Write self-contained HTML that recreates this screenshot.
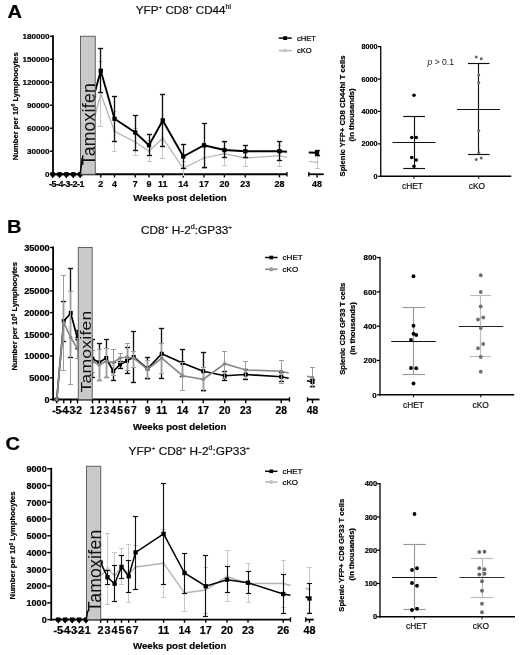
<!DOCTYPE html>
<html><head><meta charset="utf-8"><title>Figure</title>
<style>
html,body{margin:0;padding:0;background:#fff;}
svg{display:block;font-family:"Liberation Sans", sans-serif;filter:blur(0.45px);}
text[font-weight=bold]{stroke:#000;stroke-width:0.2px;}
</style></head>
<body>
<svg width="520" height="655" viewBox="0 0 520 655">
<rect width="520" height="655" fill="#fff"/>
<text transform="translate(7.4,17.7) scale(1.13,1)" font-size="17.8" font-weight="bold" stroke="#000" stroke-width="0.25">A</text>
<text transform="translate(183.4,14.3) scale(1.10,1)" font-size="10.6" text-anchor="middle" fill="#111" stroke="#111" stroke-width="0.2">YFP<tspan dy="-5.6" font-size="5.9">+</tspan><tspan dy="5.6"> CD8</tspan><tspan dy="-5.6" font-size="5.9">+</tspan><tspan dy="5.6"> CD44</tspan><tspan dy="-5.0" font-size="6.4">hi</tspan></text>
<line x1="53.00" y1="35.35" x2="53.00" y2="175.15" stroke="#000" stroke-width="1.8" />
<line x1="52.10" y1="174.25" x2="287.00" y2="174.25" stroke="#000" stroke-width="1.8" />
<line x1="287.00" y1="171.95" x2="287.00" y2="176.55" stroke="#000" stroke-width="1.3" />
<line x1="308.75" y1="174.25" x2="323.75" y2="174.25" stroke="#000" stroke-width="1.8" />
<line x1="308.75" y1="171.95" x2="308.75" y2="176.55" stroke="#000" stroke-width="1.3" />
<line x1="50.00" y1="174.25" x2="53.00" y2="174.25" stroke="#000" stroke-width="1.4" />
<text x="49.60" y="177.17" font-size="8.1" font-weight="bold" text-anchor="end" fill="#000" >0</text>
<line x1="50.00" y1="151.25" x2="53.00" y2="151.25" stroke="#000" stroke-width="1.4" />
<text x="49.60" y="154.17" font-size="8.1" font-weight="bold" text-anchor="end" fill="#000" >30000</text>
<line x1="50.00" y1="128.25" x2="53.00" y2="128.25" stroke="#000" stroke-width="1.4" />
<text x="49.60" y="131.17" font-size="8.1" font-weight="bold" text-anchor="end" fill="#000" >60000</text>
<line x1="50.00" y1="105.25" x2="53.00" y2="105.25" stroke="#000" stroke-width="1.4" />
<text x="49.60" y="108.17" font-size="8.1" font-weight="bold" text-anchor="end" fill="#000" >90000</text>
<line x1="50.00" y1="82.25" x2="53.00" y2="82.25" stroke="#000" stroke-width="1.4" />
<text x="49.60" y="85.17" font-size="8.1" font-weight="bold" text-anchor="end" fill="#000" >120000</text>
<line x1="50.00" y1="59.25" x2="53.00" y2="59.25" stroke="#000" stroke-width="1.4" />
<text x="49.60" y="62.17" font-size="8.1" font-weight="bold" text-anchor="end" fill="#000" >150000</text>
<line x1="50.00" y1="36.25" x2="53.00" y2="36.25" stroke="#000" stroke-width="1.4" />
<text x="49.60" y="39.17" font-size="8.1" font-weight="bold" text-anchor="end" fill="#000" >180000</text>
<line x1="52.70" y1="174.25" x2="52.70" y2="177.45" stroke="#000" stroke-width="1.4" />
<line x1="59.50" y1="174.25" x2="59.50" y2="177.45" stroke="#000" stroke-width="1.4" />
<line x1="66.40" y1="174.25" x2="66.40" y2="177.45" stroke="#000" stroke-width="1.4" />
<line x1="73.30" y1="174.25" x2="73.30" y2="177.45" stroke="#000" stroke-width="1.4" />
<line x1="80.20" y1="174.25" x2="80.20" y2="177.45" stroke="#000" stroke-width="1.4" />
<line x1="100.75" y1="174.25" x2="100.75" y2="177.45" stroke="#000" stroke-width="1.4" />
<text transform="translate(100.75,186.80) scale(1.0,1)" font-size="8.9" font-weight="bold" text-anchor="middle" fill="#000" >2</text>
<line x1="114.50" y1="174.25" x2="114.50" y2="177.45" stroke="#000" stroke-width="1.4" />
<text transform="translate(114.50,186.80) scale(1.0,1)" font-size="8.9" font-weight="bold" text-anchor="middle" fill="#000" >4</text>
<line x1="135.25" y1="174.25" x2="135.25" y2="177.45" stroke="#000" stroke-width="1.4" />
<text transform="translate(135.25,186.80) scale(1.0,1)" font-size="8.9" font-weight="bold" text-anchor="middle" fill="#000" >7</text>
<line x1="149.00" y1="174.25" x2="149.00" y2="177.45" stroke="#000" stroke-width="1.4" />
<text transform="translate(149.00,186.80) scale(1.0,1)" font-size="8.9" font-weight="bold" text-anchor="middle" fill="#000" >9</text>
<line x1="162.75" y1="174.25" x2="162.75" y2="177.45" stroke="#000" stroke-width="1.4" />
<text transform="translate(162.75,186.80) scale(1.0,1)" font-size="8.9" font-weight="bold" text-anchor="middle" fill="#000" >11</text>
<line x1="183.25" y1="174.25" x2="183.25" y2="177.45" stroke="#000" stroke-width="1.4" />
<text transform="translate(183.25,186.80) scale(1.0,1)" font-size="8.9" font-weight="bold" text-anchor="middle" fill="#000" >14</text>
<line x1="204.00" y1="174.25" x2="204.00" y2="177.45" stroke="#000" stroke-width="1.4" />
<text transform="translate(204.00,186.80) scale(1.0,1)" font-size="8.9" font-weight="bold" text-anchor="middle" fill="#000" >17</text>
<line x1="224.40" y1="174.25" x2="224.40" y2="177.45" stroke="#000" stroke-width="1.4" />
<text transform="translate(224.40,186.80) scale(1.0,1)" font-size="8.9" font-weight="bold" text-anchor="middle" fill="#000" >20</text>
<line x1="245.25" y1="174.25" x2="245.25" y2="177.45" stroke="#000" stroke-width="1.4" />
<text transform="translate(245.25,186.80) scale(1.0,1)" font-size="8.9" font-weight="bold" text-anchor="middle" fill="#000" >23</text>
<line x1="279.50" y1="174.25" x2="279.50" y2="177.45" stroke="#000" stroke-width="1.4" />
<text transform="translate(279.50,186.80) scale(1.0,1)" font-size="8.9" font-weight="bold" text-anchor="middle" fill="#000" >28</text>
<line x1="317.00" y1="174.25" x2="317.00" y2="177.45" stroke="#000" stroke-width="1.4" />
<text transform="translate(317.00,186.80) scale(1.0,1)" font-size="8.9" font-weight="bold" text-anchor="middle" fill="#000" >48</text>
<text transform="translate(66.40,186.80) scale(1.0,1)" font-size="8.9" font-weight="bold" text-anchor="middle" fill="#000" letter-spacing="-0.45">-5-4-3-2-1</text>
<line x1="100.50" y1="61.50" x2="100.50" y2="126.50" stroke="#c6c6c6" stroke-width="1.0" />
<line x1="98.00" y1="61.50" x2="103.00" y2="61.50" stroke="#c6c6c6" stroke-width="1.0" />
<line x1="98.00" y1="126.50" x2="103.00" y2="126.50" stroke="#c6c6c6" stroke-width="1.0" />
<line x1="114.50" y1="111.50" x2="114.50" y2="151.50" stroke="#c6c6c6" stroke-width="1.0" />
<line x1="112.00" y1="111.50" x2="117.00" y2="111.50" stroke="#c6c6c6" stroke-width="1.0" />
<line x1="112.00" y1="151.50" x2="117.00" y2="151.50" stroke="#c6c6c6" stroke-width="1.0" />
<line x1="135.50" y1="128.50" x2="135.50" y2="155.50" stroke="#c6c6c6" stroke-width="1.0" />
<line x1="133.00" y1="128.50" x2="138.00" y2="128.50" stroke="#c6c6c6" stroke-width="1.0" />
<line x1="133.00" y1="155.50" x2="138.00" y2="155.50" stroke="#c6c6c6" stroke-width="1.0" />
<line x1="149.50" y1="140.50" x2="149.50" y2="161.50" stroke="#c6c6c6" stroke-width="1.0" />
<line x1="147.00" y1="140.50" x2="152.00" y2="140.50" stroke="#c6c6c6" stroke-width="1.0" />
<line x1="147.00" y1="161.50" x2="152.00" y2="161.50" stroke="#c6c6c6" stroke-width="1.0" />
<line x1="162.50" y1="118.50" x2="162.50" y2="158.50" stroke="#c6c6c6" stroke-width="1.0" />
<line x1="160.00" y1="118.50" x2="165.00" y2="118.50" stroke="#c6c6c6" stroke-width="1.0" />
<line x1="160.00" y1="158.50" x2="165.00" y2="158.50" stroke="#c6c6c6" stroke-width="1.0" />
<line x1="183.50" y1="161.50" x2="183.50" y2="175.50" stroke="#c6c6c6" stroke-width="1.0" />
<line x1="181.00" y1="161.50" x2="186.00" y2="161.50" stroke="#c6c6c6" stroke-width="1.0" />
<line x1="181.00" y1="175.50" x2="186.00" y2="175.50" stroke="#c6c6c6" stroke-width="1.0" />
<line x1="204.50" y1="147.50" x2="204.50" y2="168.50" stroke="#c6c6c6" stroke-width="1.0" />
<line x1="202.00" y1="147.50" x2="207.00" y2="147.50" stroke="#c6c6c6" stroke-width="1.0" />
<line x1="202.00" y1="168.50" x2="207.00" y2="168.50" stroke="#c6c6c6" stroke-width="1.0" />
<line x1="224.50" y1="142.50" x2="224.50" y2="165.50" stroke="#c6c6c6" stroke-width="1.0" />
<line x1="222.00" y1="142.50" x2="227.00" y2="142.50" stroke="#c6c6c6" stroke-width="1.0" />
<line x1="222.00" y1="165.50" x2="227.00" y2="165.50" stroke="#c6c6c6" stroke-width="1.0" />
<line x1="245.50" y1="150.50" x2="245.50" y2="166.50" stroke="#c6c6c6" stroke-width="1.0" />
<line x1="243.00" y1="150.50" x2="248.00" y2="150.50" stroke="#c6c6c6" stroke-width="1.0" />
<line x1="243.00" y1="166.50" x2="248.00" y2="166.50" stroke="#c6c6c6" stroke-width="1.0" />
<line x1="279.50" y1="145.50" x2="279.50" y2="166.50" stroke="#c6c6c6" stroke-width="1.0" />
<line x1="277.00" y1="145.50" x2="282.00" y2="145.50" stroke="#c6c6c6" stroke-width="1.0" />
<line x1="277.00" y1="166.50" x2="282.00" y2="166.50" stroke="#c6c6c6" stroke-width="1.0" />
<line x1="317.50" y1="156.50" x2="317.50" y2="168.50" stroke="#c6c6c6" stroke-width="1.0" />
<line x1="315.00" y1="156.50" x2="320.00" y2="156.50" stroke="#c6c6c6" stroke-width="1.0" />
<line x1="315.00" y1="168.50" x2="320.00" y2="168.50" stroke="#c6c6c6" stroke-width="1.0" />
<polyline points="52.70,174.25 59.50,174.25 66.40,174.25 73.30,174.25 80.20,174.25 94.00,120.00 100.75,93.75 114.50,131.25 135.25,142.00 149.00,151.25 162.75,138.25 183.25,168.25 204.00,158.00 224.40,153.75 245.25,158.00 279.50,155.75 287.00,157.50" fill="none" stroke="#b2b2b2" stroke-width="1.25" stroke-linejoin="miter"/>
<polyline points="308.75,161.25 317.00,162.50" fill="none" stroke="#b2b2b2" stroke-width="1.25" stroke-linejoin="miter"/>
<polygon points="51.10,172.97 54.30,172.97 52.70,175.85" fill="#c4c4c4"/>
<polygon points="57.90,172.97 61.10,172.97 59.50,175.85" fill="#c4c4c4"/>
<polygon points="64.80,172.97 68.00,172.97 66.40,175.85" fill="#c4c4c4"/>
<polygon points="71.70,172.97 74.90,172.97 73.30,175.85" fill="#c4c4c4"/>
<polygon points="78.60,172.97 81.80,172.97 80.20,175.85" fill="#c4c4c4"/>
<polygon points="92.40,118.72 95.60,118.72 94.00,121.60" fill="#c4c4c4"/>
<polygon points="99.15,92.47 102.35,92.47 100.75,95.35" fill="#c4c4c4"/>
<polygon points="112.90,129.97 116.10,129.97 114.50,132.85" fill="#c4c4c4"/>
<polygon points="133.65,140.72 136.85,140.72 135.25,143.60" fill="#c4c4c4"/>
<polygon points="147.40,149.97 150.60,149.97 149.00,152.85" fill="#c4c4c4"/>
<polygon points="161.15,136.97 164.35,136.97 162.75,139.85" fill="#c4c4c4"/>
<polygon points="181.65,166.97 184.85,166.97 183.25,169.85" fill="#c4c4c4"/>
<polygon points="202.40,156.72 205.60,156.72 204.00,159.60" fill="#c4c4c4"/>
<polygon points="222.80,152.47 226.00,152.47 224.40,155.35" fill="#c4c4c4"/>
<polygon points="243.65,156.72 246.85,156.72 245.25,159.60" fill="#c4c4c4"/>
<polygon points="277.90,154.47 281.10,154.47 279.50,157.35" fill="#c4c4c4"/>
<polygon points="315.40,161.22 318.60,161.22 317.00,164.10" fill="#c4c4c4"/>
<line x1="100.50" y1="48.50" x2="100.50" y2="92.50" stroke="#111" stroke-width="1.35" />
<line x1="97.90" y1="48.50" x2="103.10" y2="48.50" stroke="#111" stroke-width="1.35" />
<line x1="97.90" y1="92.50" x2="103.10" y2="92.50" stroke="#111" stroke-width="1.35" />
<line x1="114.50" y1="96.50" x2="114.50" y2="141.50" stroke="#111" stroke-width="1.35" />
<line x1="111.90" y1="96.50" x2="117.10" y2="96.50" stroke="#111" stroke-width="1.35" />
<line x1="111.90" y1="141.50" x2="117.10" y2="141.50" stroke="#111" stroke-width="1.35" />
<line x1="135.50" y1="115.50" x2="135.50" y2="150.50" stroke="#111" stroke-width="1.35" />
<line x1="132.90" y1="115.50" x2="138.10" y2="115.50" stroke="#111" stroke-width="1.35" />
<line x1="132.90" y1="150.50" x2="138.10" y2="150.50" stroke="#111" stroke-width="1.35" />
<line x1="149.50" y1="134.50" x2="149.50" y2="155.50" stroke="#111" stroke-width="1.35" />
<line x1="146.90" y1="134.50" x2="152.10" y2="134.50" stroke="#111" stroke-width="1.35" />
<line x1="146.90" y1="155.50" x2="152.10" y2="155.50" stroke="#111" stroke-width="1.35" />
<line x1="162.50" y1="94.50" x2="162.50" y2="146.50" stroke="#111" stroke-width="1.35" />
<line x1="159.90" y1="94.50" x2="165.10" y2="94.50" stroke="#111" stroke-width="1.35" />
<line x1="159.90" y1="146.50" x2="165.10" y2="146.50" stroke="#111" stroke-width="1.35" />
<line x1="183.50" y1="144.50" x2="183.50" y2="168.50" stroke="#111" stroke-width="1.35" />
<line x1="180.90" y1="144.50" x2="186.10" y2="144.50" stroke="#111" stroke-width="1.35" />
<line x1="180.90" y1="168.50" x2="186.10" y2="168.50" stroke="#111" stroke-width="1.35" />
<line x1="204.50" y1="123.50" x2="204.50" y2="167.50" stroke="#111" stroke-width="1.35" />
<line x1="201.90" y1="123.50" x2="207.10" y2="123.50" stroke="#111" stroke-width="1.35" />
<line x1="201.90" y1="167.50" x2="207.10" y2="167.50" stroke="#111" stroke-width="1.35" />
<line x1="224.50" y1="141.50" x2="224.50" y2="157.50" stroke="#111" stroke-width="1.35" />
<line x1="221.90" y1="141.50" x2="227.10" y2="141.50" stroke="#111" stroke-width="1.35" />
<line x1="221.90" y1="157.50" x2="227.10" y2="157.50" stroke="#111" stroke-width="1.35" />
<line x1="245.50" y1="145.50" x2="245.50" y2="157.50" stroke="#111" stroke-width="1.35" />
<line x1="242.90" y1="145.50" x2="248.10" y2="145.50" stroke="#111" stroke-width="1.35" />
<line x1="242.90" y1="157.50" x2="248.10" y2="157.50" stroke="#111" stroke-width="1.35" />
<line x1="279.50" y1="141.50" x2="279.50" y2="160.50" stroke="#111" stroke-width="1.35" />
<line x1="276.90" y1="141.50" x2="282.10" y2="141.50" stroke="#111" stroke-width="1.35" />
<line x1="276.90" y1="160.50" x2="282.10" y2="160.50" stroke="#111" stroke-width="1.35" />
<line x1="317.50" y1="150.50" x2="317.50" y2="155.50" stroke="#111" stroke-width="1.35" />
<line x1="314.90" y1="150.50" x2="320.10" y2="150.50" stroke="#111" stroke-width="1.35" />
<line x1="314.90" y1="155.50" x2="320.10" y2="155.50" stroke="#111" stroke-width="1.35" />
<polyline points="52.70,174.25 59.50,174.25 66.40,174.25 73.30,174.25 80.20,174.25 94.00,95.50 100.75,70.75 114.50,118.75 135.25,132.50 149.00,145.25 162.75,120.50 183.25,156.50 204.00,145.25 224.40,150.00 245.25,151.25 279.50,151.25 287.00,151.75" fill="none" stroke="#000" stroke-width="1.9" stroke-linejoin="miter"/>
<polyline points="308.75,152.50 317.00,152.75" fill="none" stroke="#000" stroke-width="1.9" stroke-linejoin="miter"/>
<rect x="50.55" y="172.10" width="4.3" height="4.3" fill="#000"/>
<rect x="57.35" y="172.10" width="4.3" height="4.3" fill="#000"/>
<rect x="64.25" y="172.10" width="4.3" height="4.3" fill="#000"/>
<rect x="71.15" y="172.10" width="4.3" height="4.3" fill="#000"/>
<rect x="78.05" y="172.10" width="4.3" height="4.3" fill="#000"/>
<rect x="91.85" y="93.35" width="4.3" height="4.3" fill="#000"/>
<rect x="98.60" y="68.60" width="4.3" height="4.3" fill="#000"/>
<rect x="112.35" y="116.60" width="4.3" height="4.3" fill="#000"/>
<rect x="133.10" y="130.35" width="4.3" height="4.3" fill="#000"/>
<rect x="146.85" y="143.10" width="4.3" height="4.3" fill="#000"/>
<rect x="160.60" y="118.35" width="4.3" height="4.3" fill="#000"/>
<rect x="181.10" y="154.35" width="4.3" height="4.3" fill="#000"/>
<rect x="201.85" y="143.10" width="4.3" height="4.3" fill="#000"/>
<rect x="222.25" y="147.85" width="4.3" height="4.3" fill="#000"/>
<rect x="243.10" y="149.10" width="4.3" height="4.3" fill="#000"/>
<rect x="277.35" y="149.10" width="4.3" height="4.3" fill="#000"/>
<rect x="314.85" y="150.60" width="4.3" height="4.3" fill="#000"/>
<polygon points="49.90,173.05 55.50,173.05 52.70,178.45" fill="#000"/>
<polygon points="56.70,173.05 62.30,173.05 59.50,178.45" fill="#000"/>
<polygon points="63.60,173.05 69.20,173.05 66.40,178.45" fill="#000"/>
<polygon points="70.50,173.05 76.10,173.05 73.30,178.45" fill="#000"/>
<polygon points="77.40,173.05 83.00,173.05 80.20,178.45" fill="#000"/>
<rect x="80.5" y="36.25" width="14.75" height="138.00" fill="#c9c9c9" stroke="#555" stroke-width="0.9"/>
<text transform="translate(95.00,165.40) rotate(-90) scale(1,1)" font-size="17.6" letter-spacing="0.24" fill="#111">Tamoxifen</text>
<line x1="80.30" y1="174.25" x2="82.20" y2="158.00" stroke="#000" stroke-width="1.5" />
<text transform="translate(17.60,106.35) rotate(-90)" font-size="7.7" font-weight="bold" text-anchor="middle" fill="#000" >Number per 10<tspan dy="-2.6" font-size="5">6</tspan><tspan dy="2.6"> Lymphocytes</tspan></text>
<text x="180.00" y="200.60" font-size="9.7" font-weight="bold" text-anchor="middle" fill="#000" >Weeks post deletion</text>
<line x1="278.70" y1="38.10" x2="291.70" y2="38.10" stroke="#000" stroke-width="1.5" />
<rect x="283.30" y="36.20" width="3.8" height="3.8" fill="#000"/>
<text x="297.00" y="40.80" font-size="7.6" font-weight="normal" text-anchor="start" fill="#000" stroke="#000" stroke-width="0.22">cHET</text>
<line x1="278.70" y1="50.60" x2="291.70" y2="50.60" stroke="#b8b8b8" stroke-width="1.6" />
<circle cx="285.20" cy="50.60" r="1.9" fill="#c4c4c4"/>
<text x="297.00" y="53.30" font-size="7.6" font-weight="normal" text-anchor="start" fill="#000" stroke="#000" stroke-width="0.22">cKO</text>
<line x1="414.50" y1="116.50" x2="414.50" y2="168.50" stroke="#111" stroke-width="1.15" />
<line x1="403.25" y1="116.50" x2="425.00" y2="116.50" stroke="#111" stroke-width="1.15" />
<line x1="403.25" y1="168.50" x2="425.00" y2="168.50" stroke="#111" stroke-width="1.15" />
<line x1="392.50" y1="142.50" x2="435.50" y2="142.50" stroke="#111" stroke-width="1.15" />
<circle cx="414.00" cy="95.25" r="1.8" fill="#000"/>
<circle cx="411.75" cy="137.50" r="1.8" fill="#000"/>
<circle cx="416.25" cy="137.50" r="1.8" fill="#000"/>
<circle cx="411.75" cy="157.50" r="1.8" fill="#000"/>
<circle cx="416.25" cy="160.00" r="1.8" fill="#000"/>
<circle cx="414.00" cy="166.25" r="1.8" fill="#000"/>
<line x1="414.00" y1="176.25" x2="414.00" y2="178.85" stroke="#000" stroke-width="1.0" />
<text x="412.50" y="189.20" font-size="8.4" font-weight="normal" text-anchor="middle" fill="#111" stroke="#111" stroke-width="0.2">cHET</text>
<line x1="478.50" y1="63.50" x2="478.50" y2="154.50" stroke="#111" stroke-width="1.15" />
<line x1="468.00" y1="63.50" x2="489.50" y2="63.50" stroke="#111" stroke-width="1.15" />
<line x1="468.00" y1="154.50" x2="489.50" y2="154.50" stroke="#111" stroke-width="1.15" />
<line x1="457.00" y1="109.50" x2="500.00" y2="109.50" stroke="#111" stroke-width="1.15" />
<circle cx="476.25" cy="57.00" r="1.5" fill="#6a6a6a"/>
<circle cx="481.25" cy="58.75" r="1.5" fill="#6a6a6a"/>
<circle cx="478.75" cy="75.00" r="1.5" fill="#6a6a6a"/>
<circle cx="478.75" cy="82.50" r="1.5" fill="#6a6a6a"/>
<circle cx="478.75" cy="130.50" r="1.5" fill="#6a6a6a"/>
<circle cx="478.75" cy="152.50" r="1.5" fill="#6a6a6a"/>
<circle cx="476.25" cy="159.50" r="1.5" fill="#6a6a6a"/>
<circle cx="481.25" cy="158.00" r="1.5" fill="#6a6a6a"/>
<line x1="478.75" y1="176.25" x2="478.75" y2="178.85" stroke="#000" stroke-width="1.0" />
<text x="476.90" y="189.20" font-size="8.4" font-weight="normal" text-anchor="middle" fill="#111" stroke="#111" stroke-width="0.2">cKO</text>
<line x1="380.75" y1="46.05" x2="380.75" y2="176.95" stroke="#000" stroke-width="1.3" />
<line x1="380.05" y1="176.25" x2="511.25" y2="176.25" stroke="#000" stroke-width="1.3" />
<line x1="377.75" y1="176.25" x2="380.75" y2="176.25" stroke="#000" stroke-width="1.2" />
<text x="377.45" y="178.84" font-size="7.2" font-weight="bold" text-anchor="end" fill="#000" >0</text>
<line x1="377.75" y1="143.85" x2="380.75" y2="143.85" stroke="#000" stroke-width="1.2" />
<text x="377.45" y="146.44" font-size="7.2" font-weight="bold" text-anchor="end" fill="#000" >2000</text>
<line x1="377.75" y1="111.45" x2="380.75" y2="111.45" stroke="#000" stroke-width="1.2" />
<text x="377.45" y="114.04" font-size="7.2" font-weight="bold" text-anchor="end" fill="#000" >4000</text>
<line x1="377.75" y1="79.05" x2="380.75" y2="79.05" stroke="#000" stroke-width="1.2" />
<text x="377.45" y="81.64" font-size="7.2" font-weight="bold" text-anchor="end" fill="#000" >6000</text>
<line x1="377.75" y1="46.65" x2="380.75" y2="46.65" stroke="#000" stroke-width="1.2" />
<text x="377.45" y="49.24" font-size="7.2" font-weight="bold" text-anchor="end" fill="#000" >8000</text>
<text transform="translate(345.10,116.00) rotate(-90)" font-size="7.7" font-weight="bold" text-anchor="middle" fill="#000" >Splenic YFP+ CD8 CD44hi T cells</text>
<text transform="translate(354.40,115.00) rotate(-90)" font-size="7.7" font-weight="bold" text-anchor="middle" fill="#000" >(in thousands)</text>
<text x="427.5" y="65.2" font-size="8.6" fill="#222"><tspan font-style="italic">p</tspan> &gt; 0.1</text>
<text transform="translate(7.0,233.4) scale(1.13,1)" font-size="17.8" font-weight="bold" stroke="#000" stroke-width="0.25">B</text>
<text transform="translate(186.6,234.4) scale(1.115,1)" font-size="10.6" text-anchor="middle" fill="#111" stroke="#111" stroke-width="0.2">CD8<tspan dy="-5.6" font-size="5.9">+</tspan><tspan dy="5.6"> H-2</tspan><tspan dy="-5.0" font-size="6.4">d</tspan><tspan dy="5.0">:GP33</tspan><tspan dy="-5.6" font-size="5.9">+</tspan></text>
<line x1="53.10" y1="246.60" x2="53.10" y2="400.40" stroke="#000" stroke-width="1.8" />
<line x1="52.20" y1="399.50" x2="289.50" y2="399.50" stroke="#000" stroke-width="1.8" />
<line x1="289.50" y1="397.20" x2="289.50" y2="401.80" stroke="#000" stroke-width="1.3" />
<line x1="307.50" y1="399.50" x2="319.50" y2="399.50" stroke="#000" stroke-width="1.8" />
<line x1="307.50" y1="397.20" x2="307.50" y2="401.80" stroke="#000" stroke-width="1.3" />
<line x1="50.10" y1="399.50" x2="53.10" y2="399.50" stroke="#000" stroke-width="1.4" />
<text x="49.70" y="402.81" font-size="9.2" font-weight="bold" text-anchor="end" fill="#000" >0</text>
<line x1="50.10" y1="377.78" x2="53.10" y2="377.78" stroke="#000" stroke-width="1.4" />
<text x="49.70" y="381.09" font-size="9.2" font-weight="bold" text-anchor="end" fill="#000" >5000</text>
<line x1="50.10" y1="356.06" x2="53.10" y2="356.06" stroke="#000" stroke-width="1.4" />
<text x="49.70" y="359.37" font-size="9.2" font-weight="bold" text-anchor="end" fill="#000" >10000</text>
<line x1="50.10" y1="334.34" x2="53.10" y2="334.34" stroke="#000" stroke-width="1.4" />
<text x="49.70" y="337.65" font-size="9.2" font-weight="bold" text-anchor="end" fill="#000" >15000</text>
<line x1="50.10" y1="312.62" x2="53.10" y2="312.62" stroke="#000" stroke-width="1.4" />
<text x="49.70" y="315.93" font-size="9.2" font-weight="bold" text-anchor="end" fill="#000" >20000</text>
<line x1="50.10" y1="290.90" x2="53.10" y2="290.90" stroke="#000" stroke-width="1.4" />
<text x="49.70" y="294.21" font-size="9.2" font-weight="bold" text-anchor="end" fill="#000" >25000</text>
<line x1="50.10" y1="269.18" x2="53.10" y2="269.18" stroke="#000" stroke-width="1.4" />
<text x="49.70" y="272.49" font-size="9.2" font-weight="bold" text-anchor="end" fill="#000" >30000</text>
<line x1="50.10" y1="247.46" x2="53.10" y2="247.46" stroke="#000" stroke-width="1.4" />
<text x="49.70" y="250.77" font-size="9.2" font-weight="bold" text-anchor="end" fill="#000" >35000</text>
<line x1="56.75" y1="399.50" x2="56.75" y2="403.30" stroke="#000" stroke-width="1.4" />
<line x1="63.75" y1="399.50" x2="63.75" y2="403.30" stroke="#000" stroke-width="1.4" />
<line x1="70.75" y1="399.50" x2="70.75" y2="403.30" stroke="#000" stroke-width="1.4" />
<line x1="77.50" y1="399.50" x2="77.50" y2="403.30" stroke="#000" stroke-width="1.4" />
<line x1="92.50" y1="399.50" x2="92.50" y2="403.30" stroke="#000" stroke-width="1.4" />
<text transform="translate(92.50,414.10) scale(1.0,1)" font-size="10.3" font-weight="bold" text-anchor="middle" fill="#000" >1</text>
<line x1="99.25" y1="399.50" x2="99.25" y2="403.30" stroke="#000" stroke-width="1.4" />
<text transform="translate(99.25,414.10) scale(1.0,1)" font-size="10.3" font-weight="bold" text-anchor="middle" fill="#000" >2</text>
<line x1="106.25" y1="399.50" x2="106.25" y2="403.30" stroke="#000" stroke-width="1.4" />
<text transform="translate(106.25,414.10) scale(1.0,1)" font-size="10.3" font-weight="bold" text-anchor="middle" fill="#000" >3</text>
<line x1="113.25" y1="399.50" x2="113.25" y2="403.30" stroke="#000" stroke-width="1.4" />
<text transform="translate(113.25,414.10) scale(1.0,1)" font-size="10.3" font-weight="bold" text-anchor="middle" fill="#000" >4</text>
<line x1="120.00" y1="399.50" x2="120.00" y2="403.30" stroke="#000" stroke-width="1.4" />
<text transform="translate(120.00,414.10) scale(1.0,1)" font-size="10.3" font-weight="bold" text-anchor="middle" fill="#000" >5</text>
<line x1="127.00" y1="399.50" x2="127.00" y2="403.30" stroke="#000" stroke-width="1.4" />
<text transform="translate(127.00,414.10) scale(1.0,1)" font-size="10.3" font-weight="bold" text-anchor="middle" fill="#000" >6</text>
<line x1="133.75" y1="399.50" x2="133.75" y2="403.30" stroke="#000" stroke-width="1.4" />
<text transform="translate(133.75,414.10) scale(1.0,1)" font-size="10.3" font-weight="bold" text-anchor="middle" fill="#000" >7</text>
<line x1="147.50" y1="399.50" x2="147.50" y2="403.30" stroke="#000" stroke-width="1.4" />
<text transform="translate(147.50,414.10) scale(1.0,1)" font-size="10.3" font-weight="bold" text-anchor="middle" fill="#000" >9</text>
<line x1="161.75" y1="399.50" x2="161.75" y2="403.30" stroke="#000" stroke-width="1.4" />
<text transform="translate(161.75,414.10) scale(1.0,1)" font-size="10.3" font-weight="bold" text-anchor="middle" fill="#000" >11</text>
<line x1="182.50" y1="399.50" x2="182.50" y2="403.30" stroke="#000" stroke-width="1.4" />
<text transform="translate(182.50,414.10) scale(1.0,1)" font-size="10.3" font-weight="bold" text-anchor="middle" fill="#000" >14</text>
<line x1="203.25" y1="399.50" x2="203.25" y2="403.30" stroke="#000" stroke-width="1.4" />
<text transform="translate(203.25,414.10) scale(1.0,1)" font-size="10.3" font-weight="bold" text-anchor="middle" fill="#000" >17</text>
<line x1="224.75" y1="399.50" x2="224.75" y2="403.30" stroke="#000" stroke-width="1.4" />
<text transform="translate(224.75,414.10) scale(1.0,1)" font-size="10.3" font-weight="bold" text-anchor="middle" fill="#000" >20</text>
<line x1="245.75" y1="399.50" x2="245.75" y2="403.30" stroke="#000" stroke-width="1.4" />
<text transform="translate(245.75,414.10) scale(1.0,1)" font-size="10.3" font-weight="bold" text-anchor="middle" fill="#000" >23</text>
<line x1="281.25" y1="399.50" x2="281.25" y2="403.30" stroke="#000" stroke-width="1.4" />
<text transform="translate(281.25,414.10) scale(1.0,1)" font-size="10.3" font-weight="bold" text-anchor="middle" fill="#000" >28</text>
<line x1="312.50" y1="399.50" x2="312.50" y2="403.30" stroke="#000" stroke-width="1.4" />
<text transform="translate(312.50,414.10) scale(1.0,1)" font-size="10.3" font-weight="bold" text-anchor="middle" fill="#000" >48</text>
<text transform="translate(56.75,414.10) scale(1.0,1)" font-size="10.3" font-weight="bold" text-anchor="middle" fill="#000" letter-spacing="0">-5</text>
<text transform="translate(63.75,414.10) scale(1.0,1)" font-size="10.3" font-weight="bold" text-anchor="middle" fill="#000" letter-spacing="0">-4</text>
<text transform="translate(70.75,414.10) scale(1.0,1)" font-size="10.3" font-weight="bold" text-anchor="middle" fill="#000" letter-spacing="0">-3</text>
<text transform="translate(77.50,414.10) scale(1.0,1)" font-size="10.3" font-weight="bold" text-anchor="middle" fill="#000" letter-spacing="0">-2</text>
<line x1="63.50" y1="301.50" x2="63.50" y2="341.50" stroke="#111" stroke-width="1.35" />
<line x1="60.90" y1="301.50" x2="66.10" y2="301.50" stroke="#111" stroke-width="1.35" />
<line x1="60.90" y1="341.50" x2="66.10" y2="341.50" stroke="#111" stroke-width="1.35" />
<line x1="70.50" y1="268.50" x2="70.50" y2="357.50" stroke="#111" stroke-width="1.35" />
<line x1="67.90" y1="268.50" x2="73.10" y2="268.50" stroke="#111" stroke-width="1.35" />
<line x1="67.90" y1="357.50" x2="73.10" y2="357.50" stroke="#111" stroke-width="1.35" />
<line x1="77.50" y1="330.50" x2="77.50" y2="348.50" stroke="#111" stroke-width="1.35" />
<line x1="74.90" y1="330.50" x2="80.10" y2="330.50" stroke="#111" stroke-width="1.35" />
<line x1="74.90" y1="348.50" x2="80.10" y2="348.50" stroke="#111" stroke-width="1.35" />
<line x1="92.50" y1="339.50" x2="92.50" y2="377.50" stroke="#111" stroke-width="1.35" />
<line x1="89.90" y1="339.50" x2="95.10" y2="339.50" stroke="#111" stroke-width="1.35" />
<line x1="89.90" y1="377.50" x2="95.10" y2="377.50" stroke="#111" stroke-width="1.35" />
<line x1="99.50" y1="343.50" x2="99.50" y2="380.50" stroke="#111" stroke-width="1.35" />
<line x1="96.90" y1="343.50" x2="102.10" y2="343.50" stroke="#111" stroke-width="1.35" />
<line x1="96.90" y1="380.50" x2="102.10" y2="380.50" stroke="#111" stroke-width="1.35" />
<line x1="106.50" y1="339.50" x2="106.50" y2="377.50" stroke="#111" stroke-width="1.35" />
<line x1="103.90" y1="339.50" x2="109.10" y2="339.50" stroke="#111" stroke-width="1.35" />
<line x1="103.90" y1="377.50" x2="109.10" y2="377.50" stroke="#111" stroke-width="1.35" />
<line x1="113.50" y1="362.50" x2="113.50" y2="380.50" stroke="#111" stroke-width="1.35" />
<line x1="110.90" y1="362.50" x2="116.10" y2="362.50" stroke="#111" stroke-width="1.35" />
<line x1="110.90" y1="380.50" x2="116.10" y2="380.50" stroke="#111" stroke-width="1.35" />
<line x1="120.50" y1="361.50" x2="120.50" y2="368.50" stroke="#111" stroke-width="1.35" />
<line x1="117.90" y1="361.50" x2="123.10" y2="361.50" stroke="#111" stroke-width="1.35" />
<line x1="117.90" y1="368.50" x2="123.10" y2="368.50" stroke="#111" stroke-width="1.35" />
<line x1="127.50" y1="347.50" x2="127.50" y2="373.50" stroke="#111" stroke-width="1.35" />
<line x1="124.90" y1="347.50" x2="130.10" y2="347.50" stroke="#111" stroke-width="1.35" />
<line x1="124.90" y1="373.50" x2="130.10" y2="373.50" stroke="#111" stroke-width="1.35" />
<line x1="133.50" y1="331.50" x2="133.50" y2="382.50" stroke="#111" stroke-width="1.35" />
<line x1="130.90" y1="331.50" x2="136.10" y2="331.50" stroke="#111" stroke-width="1.35" />
<line x1="130.90" y1="382.50" x2="136.10" y2="382.50" stroke="#111" stroke-width="1.35" />
<line x1="147.50" y1="357.50" x2="147.50" y2="378.50" stroke="#111" stroke-width="1.35" />
<line x1="144.90" y1="357.50" x2="150.10" y2="357.50" stroke="#111" stroke-width="1.35" />
<line x1="144.90" y1="378.50" x2="150.10" y2="378.50" stroke="#111" stroke-width="1.35" />
<line x1="161.50" y1="328.50" x2="161.50" y2="378.50" stroke="#111" stroke-width="1.35" />
<line x1="158.90" y1="328.50" x2="164.10" y2="328.50" stroke="#111" stroke-width="1.35" />
<line x1="158.90" y1="378.50" x2="164.10" y2="378.50" stroke="#111" stroke-width="1.35" />
<line x1="182.50" y1="349.50" x2="182.50" y2="376.50" stroke="#111" stroke-width="1.35" />
<line x1="179.90" y1="349.50" x2="185.10" y2="349.50" stroke="#111" stroke-width="1.35" />
<line x1="179.90" y1="376.50" x2="185.10" y2="376.50" stroke="#111" stroke-width="1.35" />
<line x1="203.50" y1="352.50" x2="203.50" y2="390.50" stroke="#111" stroke-width="1.35" />
<line x1="200.90" y1="352.50" x2="206.10" y2="352.50" stroke="#111" stroke-width="1.35" />
<line x1="200.90" y1="390.50" x2="206.10" y2="390.50" stroke="#111" stroke-width="1.35" />
<line x1="224.50" y1="371.50" x2="224.50" y2="380.50" stroke="#111" stroke-width="1.35" />
<line x1="221.90" y1="371.50" x2="227.10" y2="371.50" stroke="#111" stroke-width="1.35" />
<line x1="221.90" y1="380.50" x2="227.10" y2="380.50" stroke="#111" stroke-width="1.35" />
<line x1="245.50" y1="369.50" x2="245.50" y2="379.50" stroke="#111" stroke-width="1.35" />
<line x1="242.90" y1="369.50" x2="248.10" y2="369.50" stroke="#111" stroke-width="1.35" />
<line x1="242.90" y1="379.50" x2="248.10" y2="379.50" stroke="#111" stroke-width="1.35" />
<line x1="281.50" y1="372.50" x2="281.50" y2="381.50" stroke="#111" stroke-width="1.35" />
<line x1="278.90" y1="372.50" x2="284.10" y2="372.50" stroke="#111" stroke-width="1.35" />
<line x1="278.90" y1="381.50" x2="284.10" y2="381.50" stroke="#111" stroke-width="1.35" />
<line x1="312.50" y1="379.50" x2="312.50" y2="386.50" stroke="#111" stroke-width="1.35" />
<line x1="309.90" y1="379.50" x2="315.10" y2="379.50" stroke="#111" stroke-width="1.35" />
<line x1="309.90" y1="386.50" x2="315.10" y2="386.50" stroke="#111" stroke-width="1.35" />
<polyline points="56.75,399.50 63.75,321.25 70.75,313.00 77.50,338.50 92.50,358.75 99.25,362.50 106.25,358.00 113.25,371.25 120.00,364.50 127.00,360.75 133.75,357.00 147.50,368.75 161.75,353.75 182.50,363.00 203.25,371.25 224.75,375.75 245.75,374.50 281.25,376.75 288.75,378.25" fill="none" stroke="#000" stroke-width="1.7" stroke-linejoin="miter"/>
<polyline points="307.00,380.75 312.50,382.00" fill="none" stroke="#000" stroke-width="1.7" stroke-linejoin="miter"/>
<rect x="54.75" y="397.50" width="4.0" height="4.0" fill="#000"/>
<rect x="61.75" y="319.25" width="4.0" height="4.0" fill="#000"/>
<rect x="68.75" y="311.00" width="4.0" height="4.0" fill="#000"/>
<rect x="75.50" y="336.50" width="4.0" height="4.0" fill="#000"/>
<rect x="90.50" y="356.75" width="4.0" height="4.0" fill="#000"/>
<rect x="97.25" y="360.50" width="4.0" height="4.0" fill="#000"/>
<rect x="104.25" y="356.00" width="4.0" height="4.0" fill="#000"/>
<rect x="111.25" y="369.25" width="4.0" height="4.0" fill="#000"/>
<rect x="118.00" y="362.50" width="4.0" height="4.0" fill="#000"/>
<rect x="125.00" y="358.75" width="4.0" height="4.0" fill="#000"/>
<rect x="131.75" y="355.00" width="4.0" height="4.0" fill="#000"/>
<rect x="145.50" y="366.75" width="4.0" height="4.0" fill="#000"/>
<rect x="159.75" y="351.75" width="4.0" height="4.0" fill="#000"/>
<rect x="180.50" y="361.00" width="4.0" height="4.0" fill="#000"/>
<rect x="201.25" y="369.25" width="4.0" height="4.0" fill="#000"/>
<rect x="222.75" y="373.75" width="4.0" height="4.0" fill="#000"/>
<rect x="243.75" y="372.50" width="4.0" height="4.0" fill="#000"/>
<rect x="279.25" y="374.75" width="4.0" height="4.0" fill="#000"/>
<rect x="310.50" y="380.00" width="4.0" height="4.0" fill="#000"/>
<line x1="63.50" y1="275.50" x2="63.50" y2="370.50" stroke="#9c9c9c" stroke-width="1.0" />
<line x1="61.00" y1="275.50" x2="66.00" y2="275.50" stroke="#9c9c9c" stroke-width="1.0" />
<line x1="61.00" y1="370.50" x2="66.00" y2="370.50" stroke="#9c9c9c" stroke-width="1.0" />
<line x1="70.50" y1="291.50" x2="70.50" y2="384.50" stroke="#9c9c9c" stroke-width="1.0" />
<line x1="68.00" y1="291.50" x2="73.00" y2="291.50" stroke="#9c9c9c" stroke-width="1.0" />
<line x1="68.00" y1="384.50" x2="73.00" y2="384.50" stroke="#9c9c9c" stroke-width="1.0" />
<line x1="77.50" y1="338.50" x2="77.50" y2="358.50" stroke="#9c9c9c" stroke-width="1.0" />
<line x1="75.00" y1="338.50" x2="80.00" y2="338.50" stroke="#9c9c9c" stroke-width="1.0" />
<line x1="75.00" y1="358.50" x2="80.00" y2="358.50" stroke="#9c9c9c" stroke-width="1.0" />
<line x1="92.50" y1="350.50" x2="92.50" y2="372.50" stroke="#9c9c9c" stroke-width="1.0" />
<line x1="90.00" y1="350.50" x2="95.00" y2="350.50" stroke="#9c9c9c" stroke-width="1.0" />
<line x1="90.00" y1="372.50" x2="95.00" y2="372.50" stroke="#9c9c9c" stroke-width="1.0" />
<line x1="99.50" y1="349.50" x2="99.50" y2="380.50" stroke="#9c9c9c" stroke-width="1.0" />
<line x1="97.00" y1="349.50" x2="102.00" y2="349.50" stroke="#9c9c9c" stroke-width="1.0" />
<line x1="97.00" y1="380.50" x2="102.00" y2="380.50" stroke="#9c9c9c" stroke-width="1.0" />
<line x1="106.50" y1="348.50" x2="106.50" y2="377.50" stroke="#9c9c9c" stroke-width="1.0" />
<line x1="104.00" y1="348.50" x2="109.00" y2="348.50" stroke="#9c9c9c" stroke-width="1.0" />
<line x1="104.00" y1="377.50" x2="109.00" y2="377.50" stroke="#9c9c9c" stroke-width="1.0" />
<line x1="113.50" y1="349.50" x2="113.50" y2="375.50" stroke="#9c9c9c" stroke-width="1.0" />
<line x1="111.00" y1="349.50" x2="116.00" y2="349.50" stroke="#9c9c9c" stroke-width="1.0" />
<line x1="111.00" y1="375.50" x2="116.00" y2="375.50" stroke="#9c9c9c" stroke-width="1.0" />
<line x1="120.50" y1="353.50" x2="120.50" y2="362.50" stroke="#9c9c9c" stroke-width="1.0" />
<line x1="118.00" y1="353.50" x2="123.00" y2="353.50" stroke="#9c9c9c" stroke-width="1.0" />
<line x1="118.00" y1="362.50" x2="123.00" y2="362.50" stroke="#9c9c9c" stroke-width="1.0" />
<line x1="127.50" y1="343.50" x2="127.50" y2="370.50" stroke="#9c9c9c" stroke-width="1.0" />
<line x1="125.00" y1="343.50" x2="130.00" y2="343.50" stroke="#9c9c9c" stroke-width="1.0" />
<line x1="125.00" y1="370.50" x2="130.00" y2="370.50" stroke="#9c9c9c" stroke-width="1.0" />
<line x1="133.50" y1="351.50" x2="133.50" y2="367.50" stroke="#9c9c9c" stroke-width="1.0" />
<line x1="131.00" y1="351.50" x2="136.00" y2="351.50" stroke="#9c9c9c" stroke-width="1.0" />
<line x1="131.00" y1="367.50" x2="136.00" y2="367.50" stroke="#9c9c9c" stroke-width="1.0" />
<line x1="147.50" y1="360.50" x2="147.50" y2="379.50" stroke="#9c9c9c" stroke-width="1.0" />
<line x1="145.00" y1="360.50" x2="150.00" y2="360.50" stroke="#9c9c9c" stroke-width="1.0" />
<line x1="145.00" y1="379.50" x2="150.00" y2="379.50" stroke="#9c9c9c" stroke-width="1.0" />
<line x1="161.50" y1="343.50" x2="161.50" y2="373.50" stroke="#9c9c9c" stroke-width="1.0" />
<line x1="159.00" y1="343.50" x2="164.00" y2="343.50" stroke="#9c9c9c" stroke-width="1.0" />
<line x1="159.00" y1="373.50" x2="164.00" y2="373.50" stroke="#9c9c9c" stroke-width="1.0" />
<line x1="182.50" y1="362.50" x2="182.50" y2="390.50" stroke="#9c9c9c" stroke-width="1.0" />
<line x1="180.00" y1="362.50" x2="185.00" y2="362.50" stroke="#9c9c9c" stroke-width="1.0" />
<line x1="180.00" y1="390.50" x2="185.00" y2="390.50" stroke="#9c9c9c" stroke-width="1.0" />
<line x1="203.50" y1="367.50" x2="203.50" y2="391.50" stroke="#9c9c9c" stroke-width="1.0" />
<line x1="201.00" y1="367.50" x2="206.00" y2="367.50" stroke="#9c9c9c" stroke-width="1.0" />
<line x1="201.00" y1="391.50" x2="206.00" y2="391.50" stroke="#9c9c9c" stroke-width="1.0" />
<line x1="224.50" y1="351.50" x2="224.50" y2="378.50" stroke="#9c9c9c" stroke-width="1.0" />
<line x1="222.00" y1="351.50" x2="227.00" y2="351.50" stroke="#9c9c9c" stroke-width="1.0" />
<line x1="222.00" y1="378.50" x2="227.00" y2="378.50" stroke="#9c9c9c" stroke-width="1.0" />
<line x1="245.50" y1="361.50" x2="245.50" y2="378.50" stroke="#9c9c9c" stroke-width="1.0" />
<line x1="243.00" y1="361.50" x2="248.00" y2="361.50" stroke="#9c9c9c" stroke-width="1.0" />
<line x1="243.00" y1="378.50" x2="248.00" y2="378.50" stroke="#9c9c9c" stroke-width="1.0" />
<line x1="281.50" y1="360.50" x2="281.50" y2="383.50" stroke="#9c9c9c" stroke-width="1.0" />
<line x1="279.00" y1="360.50" x2="284.00" y2="360.50" stroke="#9c9c9c" stroke-width="1.0" />
<line x1="279.00" y1="383.50" x2="284.00" y2="383.50" stroke="#9c9c9c" stroke-width="1.0" />
<line x1="312.50" y1="367.50" x2="312.50" y2="387.50" stroke="#9c9c9c" stroke-width="1.0" />
<line x1="310.00" y1="367.50" x2="315.00" y2="367.50" stroke="#9c9c9c" stroke-width="1.0" />
<line x1="310.00" y1="387.50" x2="315.00" y2="387.50" stroke="#9c9c9c" stroke-width="1.0" />
<polyline points="56.75,399.50 63.75,322.50 70.75,337.50 77.50,348.75 92.50,361.25 99.25,365.00 106.25,361.25 113.25,362.50 120.00,358.00 127.00,357.00 133.75,358.00 147.50,369.50 161.75,358.00 182.50,375.75 203.25,379.25 224.75,363.75 245.75,370.00 281.25,371.25 288.75,373.00" fill="none" stroke="#8a8a8a" stroke-width="1.7" stroke-linejoin="miter"/>
<polyline points="307.00,376.25 312.50,377.50" fill="none" stroke="#8a8a8a" stroke-width="1.7" stroke-linejoin="miter"/>
<circle cx="56.75" cy="399.50" r="1.8" fill="#8a8a8a"/>
<circle cx="63.75" cy="322.50" r="1.8" fill="#8a8a8a"/>
<circle cx="70.75" cy="337.50" r="1.8" fill="#8a8a8a"/>
<circle cx="77.50" cy="348.75" r="1.8" fill="#8a8a8a"/>
<circle cx="92.50" cy="361.25" r="1.8" fill="#8a8a8a"/>
<circle cx="99.25" cy="365.00" r="1.8" fill="#8a8a8a"/>
<circle cx="106.25" cy="361.25" r="1.8" fill="#8a8a8a"/>
<circle cx="113.25" cy="362.50" r="1.8" fill="#8a8a8a"/>
<circle cx="120.00" cy="358.00" r="1.8" fill="#8a8a8a"/>
<circle cx="127.00" cy="357.00" r="1.8" fill="#8a8a8a"/>
<circle cx="133.75" cy="358.00" r="1.8" fill="#8a8a8a"/>
<circle cx="147.50" cy="369.50" r="1.8" fill="#8a8a8a"/>
<circle cx="161.75" cy="358.00" r="1.8" fill="#8a8a8a"/>
<circle cx="182.50" cy="375.75" r="1.8" fill="#8a8a8a"/>
<circle cx="203.25" cy="379.25" r="1.8" fill="#8a8a8a"/>
<circle cx="224.75" cy="363.75" r="1.8" fill="#8a8a8a"/>
<circle cx="245.75" cy="370.00" r="1.8" fill="#8a8a8a"/>
<circle cx="281.25" cy="371.25" r="1.8" fill="#8a8a8a"/>
<circle cx="312.50" cy="377.50" r="1.8" fill="#8a8a8a"/>
<rect x="78.25" y="247.5" width="13.95" height="152.00" fill="#c9c9c9" stroke="#555" stroke-width="0.9"/>
<text transform="translate(91.30,392.40) rotate(-90) scale(1,0.88)" font-size="17.5" letter-spacing="0.24" fill="#111">Tamoxifen</text>
<text transform="translate(17.30,316.30) rotate(-90)" font-size="7.72" font-weight="bold" text-anchor="middle" fill="#000" >Number per 10<tspan dy="-2.6" font-size="5">6</tspan><tspan dy="2.6"> Lymphocytes</tspan></text>
<text x="179.70" y="429.60" font-size="9.7" font-weight="bold" text-anchor="middle" fill="#000" >Weeks post deletion</text>
<line x1="265.00" y1="257.50" x2="277.50" y2="257.50" stroke="#000" stroke-width="1.5" />
<rect x="269.45" y="255.70" width="3.6" height="3.6" fill="#000"/>
<text x="282.50" y="260.30" font-size="8.1" font-weight="normal" text-anchor="start" fill="#000" stroke="#000" stroke-width="0.22">cHET</text>
<line x1="265.00" y1="269.30" x2="277.50" y2="269.30" stroke="#8e8e8e" stroke-width="1.7" />
<circle cx="271.25" cy="269.30" r="2.1" fill="#9a9a9a"/>
<text x="282.50" y="272.10" font-size="8.1" font-weight="normal" text-anchor="start" fill="#000" stroke="#000" stroke-width="0.22">cKO</text>
<line x1="413.50" y1="307.50" x2="413.50" y2="374.50" stroke="#999" stroke-width="1.15" />
<line x1="402.50" y1="307.50" x2="425.00" y2="307.50" stroke="#999" stroke-width="1.15" />
<line x1="402.50" y1="374.50" x2="425.00" y2="374.50" stroke="#999" stroke-width="1.15" />
<line x1="391.25" y1="341.50" x2="435.75" y2="341.50" stroke="#111" stroke-width="1.15" />
<circle cx="413.50" cy="276.25" r="1.9" fill="#000"/>
<circle cx="413.50" cy="325.75" r="1.9" fill="#000"/>
<circle cx="413.50" cy="333.75" r="1.9" fill="#000"/>
<circle cx="416.25" cy="335.00" r="1.9" fill="#000"/>
<circle cx="411.00" cy="340.00" r="1.9" fill="#000"/>
<circle cx="411.00" cy="368.00" r="1.9" fill="#000"/>
<circle cx="416.25" cy="368.25" r="1.9" fill="#000"/>
<circle cx="413.50" cy="383.50" r="1.9" fill="#000"/>
<line x1="413.50" y1="394.75" x2="413.50" y2="397.35" stroke="#000" stroke-width="1.0" />
<text x="413.50" y="407.80" font-size="8.4" font-weight="normal" text-anchor="middle" fill="#111" stroke="#111" stroke-width="0.2">cHET</text>
<line x1="480.50" y1="295.50" x2="480.50" y2="356.50" stroke="#bbb" stroke-width="1.15" />
<line x1="470.00" y1="295.50" x2="491.25" y2="295.50" stroke="#bbb" stroke-width="1.15" />
<line x1="470.00" y1="356.50" x2="491.25" y2="356.50" stroke="#bbb" stroke-width="1.15" />
<line x1="458.75" y1="326.50" x2="503.25" y2="326.50" stroke="#222" stroke-width="1.15" />
<circle cx="480.75" cy="275.25" r="1.9" fill="#707070"/>
<circle cx="480.75" cy="292.00" r="1.9" fill="#707070"/>
<circle cx="480.75" cy="306.50" r="1.9" fill="#707070"/>
<circle cx="483.25" cy="317.50" r="1.9" fill="#707070"/>
<circle cx="478.00" cy="319.50" r="1.9" fill="#707070"/>
<circle cx="480.75" cy="328.00" r="1.9" fill="#707070"/>
<circle cx="483.25" cy="344.00" r="1.9" fill="#707070"/>
<circle cx="478.00" cy="348.25" r="1.9" fill="#707070"/>
<circle cx="480.75" cy="357.00" r="1.9" fill="#707070"/>
<circle cx="480.75" cy="371.75" r="1.9" fill="#707070"/>
<line x1="480.75" y1="394.75" x2="480.75" y2="397.35" stroke="#000" stroke-width="1.0" />
<text x="480.75" y="407.80" font-size="8.4" font-weight="normal" text-anchor="middle" fill="#111" stroke="#111" stroke-width="0.2">cKO</text>
<line x1="380.00" y1="256.80" x2="380.00" y2="395.45" stroke="#000" stroke-width="1.3" />
<line x1="379.30" y1="394.75" x2="514.25" y2="394.75" stroke="#000" stroke-width="1.3" />
<line x1="377.00" y1="394.75" x2="380.00" y2="394.75" stroke="#000" stroke-width="1.2" />
<text x="376.70" y="397.59" font-size="7.9" font-weight="bold" text-anchor="end" fill="#000" >0</text>
<line x1="377.00" y1="360.45" x2="380.00" y2="360.45" stroke="#000" stroke-width="1.2" />
<text x="376.70" y="363.29" font-size="7.9" font-weight="bold" text-anchor="end" fill="#000" >200</text>
<line x1="377.00" y1="326.15" x2="380.00" y2="326.15" stroke="#000" stroke-width="1.2" />
<text x="376.70" y="328.99" font-size="7.9" font-weight="bold" text-anchor="end" fill="#000" >400</text>
<line x1="377.00" y1="291.85" x2="380.00" y2="291.85" stroke="#000" stroke-width="1.2" />
<text x="376.70" y="294.69" font-size="7.9" font-weight="bold" text-anchor="end" fill="#000" >600</text>
<line x1="377.00" y1="257.55" x2="380.00" y2="257.55" stroke="#000" stroke-width="1.2" />
<text x="376.70" y="260.39" font-size="7.9" font-weight="bold" text-anchor="end" fill="#000" >800</text>
<text transform="translate(344.50,328.73) rotate(-90)" font-size="7.65" font-weight="bold" text-anchor="middle" fill="#000" >Splenic CD8 GP33 T cells</text>
<text transform="translate(354.50,328.52) rotate(-90)" font-size="7.65" font-weight="bold" text-anchor="middle" fill="#000" >(in thousands)</text>
<text transform="translate(5.4,450.4) scale(1.13,1)" font-size="17.8" font-weight="bold" stroke="#000" stroke-width="0.25">C</text>
<text transform="translate(189.2,455.3) scale(1.115,1)" font-size="10.6" text-anchor="middle" fill="#111" stroke="#111" stroke-width="0.2">YFP<tspan dy="-5.6" font-size="5.9">+</tspan><tspan dy="5.6"> CD8</tspan><tspan dy="-5.6" font-size="5.9">+</tspan><tspan dy="5.6"> H-2</tspan><tspan dy="-5.0" font-size="6.4">d</tspan><tspan dy="5.0">:GP33</tspan><tspan dy="-5.6" font-size="5.9">+</tspan></text>
<line x1="51.25" y1="467.85" x2="51.25" y2="620.50" stroke="#000" stroke-width="1.8" />
<line x1="50.35" y1="619.60" x2="290.50" y2="619.60" stroke="#000" stroke-width="1.8" />
<line x1="290.50" y1="617.30" x2="290.50" y2="621.90" stroke="#000" stroke-width="1.3" />
<line x1="305.75" y1="619.60" x2="313.75" y2="619.60" stroke="#000" stroke-width="1.8" />
<line x1="305.75" y1="617.30" x2="305.75" y2="621.90" stroke="#000" stroke-width="1.3" />
<line x1="47.25" y1="619.60" x2="51.25" y2="619.60" stroke="#000" stroke-width="1.4" />
<text x="46.65" y="622.84" font-size="9.0" font-weight="bold" text-anchor="end" fill="#000" >0</text>
<line x1="47.25" y1="602.84" x2="51.25" y2="602.84" stroke="#000" stroke-width="1.4" />
<text x="46.65" y="606.08" font-size="9.0" font-weight="bold" text-anchor="end" fill="#000" >1000</text>
<line x1="47.25" y1="586.08" x2="51.25" y2="586.08" stroke="#000" stroke-width="1.4" />
<text x="46.65" y="589.32" font-size="9.0" font-weight="bold" text-anchor="end" fill="#000" >2000</text>
<line x1="47.25" y1="569.32" x2="51.25" y2="569.32" stroke="#000" stroke-width="1.4" />
<text x="46.65" y="572.56" font-size="9.0" font-weight="bold" text-anchor="end" fill="#000" >3000</text>
<line x1="47.25" y1="552.56" x2="51.25" y2="552.56" stroke="#000" stroke-width="1.4" />
<text x="46.65" y="555.80" font-size="9.0" font-weight="bold" text-anchor="end" fill="#000" >4000</text>
<line x1="47.25" y1="535.80" x2="51.25" y2="535.80" stroke="#000" stroke-width="1.4" />
<text x="46.65" y="539.04" font-size="9.0" font-weight="bold" text-anchor="end" fill="#000" >5000</text>
<line x1="47.25" y1="519.04" x2="51.25" y2="519.04" stroke="#000" stroke-width="1.4" />
<text x="46.65" y="522.28" font-size="9.0" font-weight="bold" text-anchor="end" fill="#000" >6000</text>
<line x1="47.25" y1="502.28" x2="51.25" y2="502.28" stroke="#000" stroke-width="1.4" />
<text x="46.65" y="505.52" font-size="9.0" font-weight="bold" text-anchor="end" fill="#000" >7000</text>
<line x1="47.25" y1="485.52" x2="51.25" y2="485.52" stroke="#000" stroke-width="1.4" />
<text x="46.65" y="488.76" font-size="9.0" font-weight="bold" text-anchor="end" fill="#000" >8000</text>
<line x1="47.25" y1="468.76" x2="51.25" y2="468.76" stroke="#000" stroke-width="1.4" />
<text x="46.65" y="472.00" font-size="9.0" font-weight="bold" text-anchor="end" fill="#000" >9000</text>
<line x1="58.25" y1="619.60" x2="58.25" y2="622.80" stroke="#000" stroke-width="1.4" />
<line x1="65.20" y1="619.60" x2="65.20" y2="622.80" stroke="#000" stroke-width="1.4" />
<line x1="72.20" y1="619.60" x2="72.20" y2="622.80" stroke="#000" stroke-width="1.4" />
<line x1="79.10" y1="619.60" x2="79.10" y2="622.80" stroke="#000" stroke-width="1.4" />
<line x1="86.00" y1="619.60" x2="86.00" y2="622.80" stroke="#000" stroke-width="1.4" />
<line x1="100.60" y1="619.60" x2="100.60" y2="622.80" stroke="#000" stroke-width="1.4" />
<text transform="translate(100.60,634.20) scale(1.0,1)" font-size="10.8" font-weight="bold" text-anchor="middle" fill="#000" >2</text>
<line x1="107.50" y1="619.60" x2="107.50" y2="622.80" stroke="#000" stroke-width="1.4" />
<text transform="translate(107.50,634.20) scale(1.0,1)" font-size="10.8" font-weight="bold" text-anchor="middle" fill="#000" >3</text>
<line x1="114.60" y1="619.60" x2="114.60" y2="622.80" stroke="#000" stroke-width="1.4" />
<text transform="translate(114.60,634.20) scale(1.0,1)" font-size="10.8" font-weight="bold" text-anchor="middle" fill="#000" >4</text>
<line x1="121.50" y1="619.60" x2="121.50" y2="622.80" stroke="#000" stroke-width="1.4" />
<text transform="translate(121.50,634.20) scale(1.0,1)" font-size="10.8" font-weight="bold" text-anchor="middle" fill="#000" >5</text>
<line x1="128.70" y1="619.60" x2="128.70" y2="622.80" stroke="#000" stroke-width="1.4" />
<text transform="translate(128.70,634.20) scale(1.0,1)" font-size="10.8" font-weight="bold" text-anchor="middle" fill="#000" >6</text>
<line x1="135.60" y1="619.60" x2="135.60" y2="622.80" stroke="#000" stroke-width="1.4" />
<text transform="translate(135.60,634.20) scale(1.0,1)" font-size="10.8" font-weight="bold" text-anchor="middle" fill="#000" >7</text>
<line x1="163.60" y1="619.60" x2="163.60" y2="622.80" stroke="#000" stroke-width="1.4" />
<text transform="translate(163.60,634.20) scale(1.0,1)" font-size="10.8" font-weight="bold" text-anchor="middle" fill="#000" >11</text>
<line x1="184.50" y1="619.60" x2="184.50" y2="622.80" stroke="#000" stroke-width="1.4" />
<text transform="translate(184.50,634.20) scale(1.0,1)" font-size="10.8" font-weight="bold" text-anchor="middle" fill="#000" >14</text>
<line x1="205.75" y1="619.60" x2="205.75" y2="622.80" stroke="#000" stroke-width="1.4" />
<text transform="translate(205.75,634.20) scale(1.0,1)" font-size="10.8" font-weight="bold" text-anchor="middle" fill="#000" >17</text>
<line x1="227.00" y1="619.60" x2="227.00" y2="622.80" stroke="#000" stroke-width="1.4" />
<text transform="translate(227.00,634.20) scale(1.0,1)" font-size="10.8" font-weight="bold" text-anchor="middle" fill="#000" >20</text>
<line x1="248.00" y1="619.60" x2="248.00" y2="622.80" stroke="#000" stroke-width="1.4" />
<text transform="translate(248.00,634.20) scale(1.0,1)" font-size="10.8" font-weight="bold" text-anchor="middle" fill="#000" >23</text>
<line x1="283.25" y1="619.60" x2="283.25" y2="622.80" stroke="#000" stroke-width="1.4" />
<text transform="translate(283.25,634.20) scale(1.0,1)" font-size="10.8" font-weight="bold" text-anchor="middle" fill="#000" >26</text>
<line x1="309.50" y1="619.60" x2="309.50" y2="622.80" stroke="#000" stroke-width="1.4" />
<text transform="translate(309.50,634.20) scale(1.0,1)" font-size="10.8" font-weight="bold" text-anchor="middle" fill="#000" >48</text>
<text transform="translate(58.25,634.20) scale(1.0,1)" font-size="10.8" font-weight="bold" text-anchor="middle" fill="#000" letter-spacing="0">-5</text>
<text transform="translate(65.20,634.20) scale(1.0,1)" font-size="10.8" font-weight="bold" text-anchor="middle" fill="#000" letter-spacing="0">-4</text>
<text transform="translate(72.20,634.20) scale(1.0,1)" font-size="10.8" font-weight="bold" text-anchor="middle" fill="#000" letter-spacing="0">-3</text>
<text transform="translate(79.10,634.20) scale(1.0,1)" font-size="10.8" font-weight="bold" text-anchor="middle" fill="#000" letter-spacing="0">-2</text>
<text transform="translate(86.00,634.20) scale(1.0,1)" font-size="10.8" font-weight="bold" text-anchor="middle" fill="#000" letter-spacing="0">-1</text>
<line x1="107.50" y1="533.50" x2="107.50" y2="604.50" stroke="#c8c8c8" stroke-width="1.0" />
<line x1="105.00" y1="533.50" x2="110.00" y2="533.50" stroke="#c8c8c8" stroke-width="1.0" />
<line x1="105.00" y1="604.50" x2="110.00" y2="604.50" stroke="#c8c8c8" stroke-width="1.0" />
<line x1="114.50" y1="552.50" x2="114.50" y2="601.50" stroke="#c8c8c8" stroke-width="1.0" />
<line x1="112.00" y1="552.50" x2="117.00" y2="552.50" stroke="#c8c8c8" stroke-width="1.0" />
<line x1="112.00" y1="601.50" x2="117.00" y2="601.50" stroke="#c8c8c8" stroke-width="1.0" />
<line x1="121.50" y1="548.50" x2="121.50" y2="584.50" stroke="#c8c8c8" stroke-width="1.0" />
<line x1="119.00" y1="548.50" x2="124.00" y2="548.50" stroke="#c8c8c8" stroke-width="1.0" />
<line x1="119.00" y1="584.50" x2="124.00" y2="584.50" stroke="#c8c8c8" stroke-width="1.0" />
<line x1="128.50" y1="544.50" x2="128.50" y2="602.50" stroke="#c8c8c8" stroke-width="1.0" />
<line x1="126.00" y1="544.50" x2="131.00" y2="544.50" stroke="#c8c8c8" stroke-width="1.0" />
<line x1="126.00" y1="602.50" x2="131.00" y2="602.50" stroke="#c8c8c8" stroke-width="1.0" />
<line x1="135.50" y1="545.50" x2="135.50" y2="589.50" stroke="#c8c8c8" stroke-width="1.0" />
<line x1="133.00" y1="545.50" x2="138.00" y2="545.50" stroke="#c8c8c8" stroke-width="1.0" />
<line x1="133.00" y1="589.50" x2="138.00" y2="589.50" stroke="#c8c8c8" stroke-width="1.0" />
<line x1="163.50" y1="529.50" x2="163.50" y2="597.50" stroke="#c8c8c8" stroke-width="1.0" />
<line x1="161.00" y1="529.50" x2="166.00" y2="529.50" stroke="#c8c8c8" stroke-width="1.0" />
<line x1="161.00" y1="597.50" x2="166.00" y2="597.50" stroke="#c8c8c8" stroke-width="1.0" />
<line x1="184.50" y1="574.50" x2="184.50" y2="611.50" stroke="#c8c8c8" stroke-width="1.0" />
<line x1="182.00" y1="574.50" x2="187.00" y2="574.50" stroke="#c8c8c8" stroke-width="1.0" />
<line x1="182.00" y1="611.50" x2="187.00" y2="611.50" stroke="#c8c8c8" stroke-width="1.0" />
<line x1="205.50" y1="567.50" x2="205.50" y2="613.50" stroke="#c8c8c8" stroke-width="1.0" />
<line x1="203.00" y1="567.50" x2="208.00" y2="567.50" stroke="#c8c8c8" stroke-width="1.0" />
<line x1="203.00" y1="613.50" x2="208.00" y2="613.50" stroke="#c8c8c8" stroke-width="1.0" />
<line x1="227.50" y1="550.50" x2="227.50" y2="601.50" stroke="#c8c8c8" stroke-width="1.0" />
<line x1="225.00" y1="550.50" x2="230.00" y2="550.50" stroke="#c8c8c8" stroke-width="1.0" />
<line x1="225.00" y1="601.50" x2="230.00" y2="601.50" stroke="#c8c8c8" stroke-width="1.0" />
<line x1="248.50" y1="563.50" x2="248.50" y2="602.50" stroke="#c8c8c8" stroke-width="1.0" />
<line x1="246.00" y1="563.50" x2="251.00" y2="563.50" stroke="#c8c8c8" stroke-width="1.0" />
<line x1="246.00" y1="602.50" x2="251.00" y2="602.50" stroke="#c8c8c8" stroke-width="1.0" />
<line x1="283.50" y1="560.50" x2="283.50" y2="607.50" stroke="#c8c8c8" stroke-width="1.0" />
<line x1="281.00" y1="560.50" x2="286.00" y2="560.50" stroke="#c8c8c8" stroke-width="1.0" />
<line x1="281.00" y1="607.50" x2="286.00" y2="607.50" stroke="#c8c8c8" stroke-width="1.0" />
<line x1="309.50" y1="567.50" x2="309.50" y2="612.50" stroke="#c8c8c8" stroke-width="1.0" />
<line x1="307.00" y1="567.50" x2="312.00" y2="567.50" stroke="#c8c8c8" stroke-width="1.0" />
<line x1="307.00" y1="612.50" x2="312.00" y2="612.50" stroke="#c8c8c8" stroke-width="1.0" />
<polyline points="58.25,619.60 65.20,619.60 72.20,619.60 79.10,619.60 86.00,619.60 100.60,576.00 107.50,568.30 114.60,576.00 121.50,566.30 128.70,574.00 135.60,567.00 163.60,563.20 184.50,593.00 205.75,590.00 227.00,576.50 248.00,583.50 283.25,583.50 290.50,585.50" fill="none" stroke="#b4b4b4" stroke-width="1.4" stroke-linejoin="miter"/>
<polyline points="305.50,588.00 309.50,589.75" fill="none" stroke="#b4b4b4" stroke-width="1.4" stroke-linejoin="miter"/>
<polygon points="56.75,618.40 59.75,618.40 58.25,621.10" fill="#cacaca"/>
<polygon points="63.70,618.40 66.70,618.40 65.20,621.10" fill="#cacaca"/>
<polygon points="70.70,618.40 73.70,618.40 72.20,621.10" fill="#cacaca"/>
<polygon points="77.60,618.40 80.60,618.40 79.10,621.10" fill="#cacaca"/>
<polygon points="84.50,618.40 87.50,618.40 86.00,621.10" fill="#cacaca"/>
<polygon points="99.10,574.80 102.10,574.80 100.60,577.50" fill="#cacaca"/>
<polygon points="106.00,567.10 109.00,567.10 107.50,569.80" fill="#cacaca"/>
<polygon points="113.10,574.80 116.10,574.80 114.60,577.50" fill="#cacaca"/>
<polygon points="120.00,565.10 123.00,565.10 121.50,567.80" fill="#cacaca"/>
<polygon points="127.20,572.80 130.20,572.80 128.70,575.50" fill="#cacaca"/>
<polygon points="134.10,565.80 137.10,565.80 135.60,568.50" fill="#cacaca"/>
<polygon points="162.10,562.00 165.10,562.00 163.60,564.70" fill="#cacaca"/>
<polygon points="183.00,591.80 186.00,591.80 184.50,594.50" fill="#cacaca"/>
<polygon points="204.25,588.80 207.25,588.80 205.75,591.50" fill="#cacaca"/>
<polygon points="225.50,575.30 228.50,575.30 227.00,578.00" fill="#cacaca"/>
<polygon points="246.50,582.30 249.50,582.30 248.00,585.00" fill="#cacaca"/>
<polygon points="281.75,582.30 284.75,582.30 283.25,585.00" fill="#cacaca"/>
<polygon points="308.00,588.55 311.00,588.55 309.50,591.25" fill="#cacaca"/>
<line x1="107.50" y1="570.50" x2="107.50" y2="584.50" stroke="#111" stroke-width="1.15" />
<line x1="104.90" y1="570.50" x2="110.10" y2="570.50" stroke="#111" stroke-width="1.15" />
<line x1="104.90" y1="584.50" x2="110.10" y2="584.50" stroke="#111" stroke-width="1.15" />
<line x1="114.50" y1="565.50" x2="114.50" y2="601.50" stroke="#111" stroke-width="1.15" />
<line x1="111.90" y1="565.50" x2="117.10" y2="565.50" stroke="#111" stroke-width="1.15" />
<line x1="111.90" y1="601.50" x2="117.10" y2="601.50" stroke="#111" stroke-width="1.15" />
<line x1="121.50" y1="555.50" x2="121.50" y2="578.50" stroke="#111" stroke-width="1.15" />
<line x1="118.90" y1="555.50" x2="124.10" y2="555.50" stroke="#111" stroke-width="1.15" />
<line x1="118.90" y1="578.50" x2="124.10" y2="578.50" stroke="#111" stroke-width="1.15" />
<line x1="128.50" y1="560.50" x2="128.50" y2="592.50" stroke="#111" stroke-width="1.15" />
<line x1="125.90" y1="560.50" x2="131.10" y2="560.50" stroke="#111" stroke-width="1.15" />
<line x1="125.90" y1="592.50" x2="131.10" y2="592.50" stroke="#111" stroke-width="1.15" />
<line x1="135.50" y1="516.50" x2="135.50" y2="589.50" stroke="#111" stroke-width="1.15" />
<line x1="132.90" y1="516.50" x2="138.10" y2="516.50" stroke="#111" stroke-width="1.15" />
<line x1="132.90" y1="589.50" x2="138.10" y2="589.50" stroke="#111" stroke-width="1.15" />
<line x1="163.50" y1="483.50" x2="163.50" y2="584.50" stroke="#111" stroke-width="1.15" />
<line x1="160.90" y1="483.50" x2="166.10" y2="483.50" stroke="#111" stroke-width="1.15" />
<line x1="160.90" y1="584.50" x2="166.10" y2="584.50" stroke="#111" stroke-width="1.15" />
<line x1="184.50" y1="553.50" x2="184.50" y2="593.50" stroke="#111" stroke-width="1.15" />
<line x1="181.90" y1="553.50" x2="187.10" y2="553.50" stroke="#111" stroke-width="1.15" />
<line x1="181.90" y1="593.50" x2="187.10" y2="593.50" stroke="#111" stroke-width="1.15" />
<line x1="205.50" y1="555.50" x2="205.50" y2="616.50" stroke="#111" stroke-width="1.15" />
<line x1="202.90" y1="555.50" x2="208.10" y2="555.50" stroke="#111" stroke-width="1.15" />
<line x1="202.90" y1="616.50" x2="208.10" y2="616.50" stroke="#111" stroke-width="1.15" />
<line x1="227.50" y1="566.50" x2="227.50" y2="592.50" stroke="#111" stroke-width="1.15" />
<line x1="224.90" y1="566.50" x2="230.10" y2="566.50" stroke="#111" stroke-width="1.15" />
<line x1="224.90" y1="592.50" x2="230.10" y2="592.50" stroke="#111" stroke-width="1.15" />
<line x1="248.50" y1="571.50" x2="248.50" y2="593.50" stroke="#111" stroke-width="1.15" />
<line x1="245.90" y1="571.50" x2="251.10" y2="571.50" stroke="#111" stroke-width="1.15" />
<line x1="245.90" y1="593.50" x2="251.10" y2="593.50" stroke="#111" stroke-width="1.15" />
<line x1="283.50" y1="574.50" x2="283.50" y2="613.50" stroke="#111" stroke-width="1.15" />
<line x1="280.90" y1="574.50" x2="286.10" y2="574.50" stroke="#111" stroke-width="1.15" />
<line x1="280.90" y1="613.50" x2="286.10" y2="613.50" stroke="#111" stroke-width="1.15" />
<line x1="309.50" y1="583.50" x2="309.50" y2="613.50" stroke="#111" stroke-width="1.15" />
<line x1="306.90" y1="583.50" x2="312.10" y2="583.50" stroke="#111" stroke-width="1.15" />
<line x1="306.90" y1="613.50" x2="312.10" y2="613.50" stroke="#111" stroke-width="1.15" />
<polyline points="58.25,619.60 65.20,619.60 72.20,619.60 79.10,619.60 86.00,619.60 100.60,562.50 107.50,577.30 114.60,583.70 121.50,566.90 128.70,576.30 135.60,552.40 163.60,533.80 184.50,573.00 205.75,586.25 227.00,579.70 248.00,582.75 283.25,594.00 290.50,595.25" fill="none" stroke="#000" stroke-width="1.5" stroke-linejoin="miter"/>
<polyline points="305.50,596.75 309.50,598.50" fill="none" stroke="#000" stroke-width="1.5" stroke-linejoin="miter"/>
<rect x="56.10" y="617.45" width="4.3" height="4.3" fill="#000"/>
<rect x="63.05" y="617.45" width="4.3" height="4.3" fill="#000"/>
<rect x="70.05" y="617.45" width="4.3" height="4.3" fill="#000"/>
<rect x="76.95" y="617.45" width="4.3" height="4.3" fill="#000"/>
<rect x="83.85" y="617.45" width="4.3" height="4.3" fill="#000"/>
<rect x="98.45" y="560.35" width="4.3" height="4.3" fill="#000"/>
<rect x="105.35" y="575.15" width="4.3" height="4.3" fill="#000"/>
<rect x="112.45" y="581.55" width="4.3" height="4.3" fill="#000"/>
<rect x="119.35" y="564.75" width="4.3" height="4.3" fill="#000"/>
<rect x="126.55" y="574.15" width="4.3" height="4.3" fill="#000"/>
<rect x="133.45" y="550.25" width="4.3" height="4.3" fill="#000"/>
<rect x="161.45" y="531.65" width="4.3" height="4.3" fill="#000"/>
<rect x="182.35" y="570.85" width="4.3" height="4.3" fill="#000"/>
<rect x="203.60" y="584.10" width="4.3" height="4.3" fill="#000"/>
<rect x="224.85" y="577.55" width="4.3" height="4.3" fill="#000"/>
<rect x="245.85" y="580.60" width="4.3" height="4.3" fill="#000"/>
<rect x="281.10" y="591.85" width="4.3" height="4.3" fill="#000"/>
<rect x="307.35" y="596.35" width="4.3" height="4.3" fill="#000"/>
<polygon points="55.45,618.40 61.05,618.40 58.25,623.80" fill="#000"/>
<polygon points="62.40,618.40 68.00,618.40 65.20,623.80" fill="#000"/>
<polygon points="69.40,618.40 75.00,618.40 72.20,623.80" fill="#000"/>
<polygon points="76.30,618.40 81.90,618.40 79.10,623.80" fill="#000"/>
<polygon points="83.20,618.40 88.80,618.40 86.00,623.80" fill="#000"/>
<rect x="86.5" y="466.25" width="14.25" height="153.35" fill="#c9c9c9" stroke="#555" stroke-width="0.9"/>
<text transform="translate(101.00,611.90) rotate(-90) scale(1,1)" font-size="17.6" letter-spacing="0.24" fill="#111">Tamoxifen</text>
<line x1="86.20" y1="619.60" x2="87.70" y2="610.50" stroke="#000" stroke-width="1.5" />
<text transform="translate(15.10,545.38) rotate(-90)" font-size="7.7" font-weight="bold" text-anchor="middle" fill="#000" >Number per 10<tspan dy="-2.6" font-size="5">6</tspan><tspan dy="2.6"> Lymphocytes</tspan></text>
<text x="179.70" y="649.40" font-size="9.7" font-weight="bold" text-anchor="middle" fill="#000" >Weeks post deletion</text>
<line x1="265.00" y1="471.30" x2="277.50" y2="471.30" stroke="#000" stroke-width="1.5" />
<rect x="269.45" y="469.50" width="3.6" height="3.6" fill="#000"/>
<text x="282.50" y="474.10" font-size="8.0" font-weight="normal" text-anchor="start" fill="#000" stroke="#000" stroke-width="0.22">cHET</text>
<line x1="265.00" y1="482.00" x2="277.50" y2="482.00" stroke="#b8b8b8" stroke-width="1.6" />
<circle cx="271.25" cy="482.00" r="1.9" fill="#c4c4c4"/>
<text x="282.50" y="484.80" font-size="8.0" font-weight="normal" text-anchor="start" fill="#000" stroke="#000" stroke-width="0.22">cKO</text>
<line x1="414.50" y1="544.50" x2="414.50" y2="609.50" stroke="#999" stroke-width="1.15" />
<line x1="403.25" y1="544.50" x2="425.75" y2="544.50" stroke="#999" stroke-width="1.15" />
<line x1="403.25" y1="609.50" x2="425.75" y2="609.50" stroke="#999" stroke-width="1.15" />
<line x1="392.00" y1="577.50" x2="437.00" y2="577.50" stroke="#111" stroke-width="1.15" />
<circle cx="414.50" cy="514.00" r="1.9" fill="#000"/>
<circle cx="412.00" cy="570.00" r="1.9" fill="#000"/>
<circle cx="417.00" cy="568.25" r="1.9" fill="#000"/>
<circle cx="412.00" cy="583.00" r="1.9" fill="#000"/>
<circle cx="417.00" cy="585.75" r="1.9" fill="#000"/>
<circle cx="412.00" cy="610.00" r="1.9" fill="#000"/>
<circle cx="417.00" cy="608.75" r="1.9" fill="#000"/>
<line x1="414.50" y1="616.75" x2="414.50" y2="619.35" stroke="#000" stroke-width="1.0" />
<text x="416.50" y="628.50" font-size="8.4" font-weight="normal" text-anchor="middle" fill="#111" stroke="#111" stroke-width="0.2">cHET</text>
<line x1="482.50" y1="558.50" x2="482.50" y2="597.50" stroke="#bbb" stroke-width="1.15" />
<line x1="470.75" y1="558.50" x2="493.25" y2="558.50" stroke="#bbb" stroke-width="1.15" />
<line x1="470.75" y1="597.50" x2="493.25" y2="597.50" stroke="#bbb" stroke-width="1.15" />
<line x1="459.50" y1="577.50" x2="504.50" y2="577.50" stroke="#333" stroke-width="1.15" />
<circle cx="479.25" cy="552.00" r="1.9" fill="#6a6a6a"/>
<circle cx="484.50" cy="551.75" r="1.9" fill="#6a6a6a"/>
<circle cx="479.25" cy="568.25" r="1.9" fill="#6a6a6a"/>
<circle cx="484.50" cy="569.25" r="1.9" fill="#6a6a6a"/>
<circle cx="479.25" cy="574.50" r="1.9" fill="#6a6a6a"/>
<circle cx="484.50" cy="573.75" r="1.9" fill="#6a6a6a"/>
<circle cx="482.00" cy="581.25" r="1.9" fill="#6a6a6a"/>
<circle cx="482.00" cy="590.75" r="1.9" fill="#6a6a6a"/>
<circle cx="482.00" cy="603.75" r="1.9" fill="#6a6a6a"/>
<circle cx="482.00" cy="612.25" r="1.9" fill="#6a6a6a"/>
<line x1="482.00" y1="616.75" x2="482.00" y2="619.35" stroke="#000" stroke-width="1.0" />
<text x="481.00" y="628.50" font-size="8.4" font-weight="normal" text-anchor="middle" fill="#111" stroke="#111" stroke-width="0.2">cKO</text>
<line x1="380.00" y1="483.05" x2="380.00" y2="617.45" stroke="#000" stroke-width="1.3" />
<line x1="379.30" y1="616.75" x2="515.00" y2="616.75" stroke="#000" stroke-width="1.3" />
<line x1="377.00" y1="616.75" x2="380.00" y2="616.75" stroke="#000" stroke-width="1.2" />
<text x="377.20" y="619.45" font-size="7.5" font-weight="bold" text-anchor="end" fill="#000" >0</text>
<line x1="377.00" y1="583.50" x2="380.00" y2="583.50" stroke="#000" stroke-width="1.2" />
<text x="377.20" y="586.20" font-size="7.5" font-weight="bold" text-anchor="end" fill="#000" >100</text>
<line x1="377.00" y1="550.25" x2="380.00" y2="550.25" stroke="#000" stroke-width="1.2" />
<text x="377.20" y="552.95" font-size="7.5" font-weight="bold" text-anchor="end" fill="#000" >200</text>
<line x1="377.00" y1="517.00" x2="380.00" y2="517.00" stroke="#000" stroke-width="1.2" />
<text x="377.20" y="519.70" font-size="7.5" font-weight="bold" text-anchor="end" fill="#000" >300</text>
<line x1="377.00" y1="483.75" x2="380.00" y2="483.75" stroke="#000" stroke-width="1.2" />
<text x="377.20" y="486.45" font-size="7.5" font-weight="bold" text-anchor="end" fill="#000" >400</text>
<text transform="translate(344.20,555.25) rotate(-90)" font-size="7.6" font-weight="bold" text-anchor="middle" fill="#000" >Splenic YFP+ CD8 GP33 T cells</text>
<text transform="translate(354.00,554.25) rotate(-90)" font-size="7.6" font-weight="bold" text-anchor="middle" fill="#000" >(in thousands)</text>
</svg>
</body></html>
